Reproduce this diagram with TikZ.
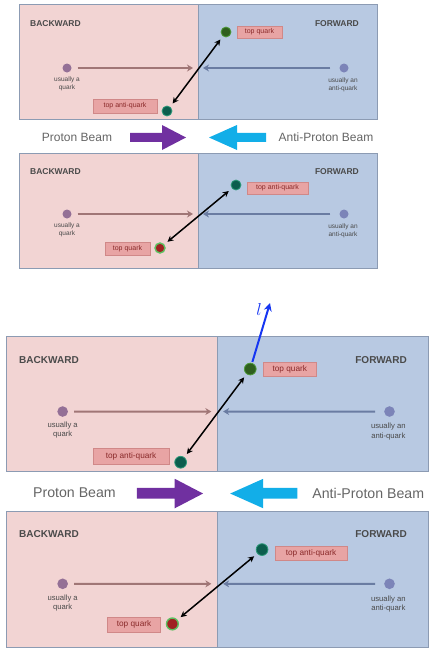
\documentclass[tikz,border=0pt]{standalone}
\usepackage{fontspec}
\setmainfont{Liberation Sans}
\usetikzlibrary{arrows.meta}
\definecolor{pinkbg}{HTML}{F2D4D3}
\definecolor{bluebg}{HTML}{B8C9E2}
\definecolor{framec}{HTML}{8C9BB3}
\definecolor{lblfill}{HTML}{E8A4A4}
\definecolor{lbldraw}{HTML}{D08888}
\definecolor{lbltext}{HTML}{8A2A2A}
\definecolor{parr}{HTML}{A07676}
\definecolor{aparr}{HTML}{6A7CA2}
\definecolor{pdot}{HTML}{947096}
\definecolor{apdot}{HTML}{7C84B8}
\definecolor{beampurple}{HTML}{7030A0}
\definecolor{beamcyan}{HTML}{12AEE8}
\definecolor{txtgray}{HTML}{4A4A4A}
\definecolor{tqgreen}{HTML}{2F5F1E}
\definecolor{tqring}{HTML}{4E9A3A}
\definecolor{aqteal}{HTML}{0C5E4E}
\definecolor{aqring}{HTML}{2E9A7A}
\definecolor{tqred}{HTML}{A02222}
\definecolor{ringgreen}{HTML}{5CC060}
\definecolor{leptonblue}{HTML}{1636F2}
\tikzset{
  panelL/.style={fill=pinkbg, draw=framec, line width=0.8pt},
  panelR/.style={fill=bluebg, draw=framec, line width=0.8pt},
  hdr/.style={font=\fontsize{8.5}{10}\selectfont\bfseries, text=txtgray, inner sep=0pt},
  smalltxt/.style={font=\fontsize{6.5}{7.8}\selectfont, text=txtgray, align=center, inner sep=0pt},
  lbl/.style={rectangle, fill=lblfill, draw=lbldraw, line width=0.5pt,
     font=\fontsize{7}{8}\selectfont, text=lbltext, inner sep=0pt, minimum height=12pt},
  qdot/.style={circle, inner sep=0pt, minimum size=9pt},
  tdot/.style={circle, inner sep=0pt, minimum size=10pt},
  parrow/.style={draw=parr, line width=2pt, -{Stealth[length=6pt,width=7pt]}},
  aparrow/.style={draw=aparr, line width=2pt, -{Stealth[length=6pt,width=7pt]}},
  pairarrow/.style={draw=black, line width=1.5pt, {Stealth[length=6pt,width=6pt]}-{Stealth[length=6pt,width=6pt]}, shorten <=4pt, shorten >=4pt},
  beamtxt/.style={font=\fontsize{12}{14}\selectfont, text=txtgray!85, inner sep=0pt},
  leparrow/.style={draw=leptonblue, line width=2pt, -{Stealth[length=8pt,width=8pt]}, shorten <=1pt},
}
\newcommand\fbdiagram[1]{%
  % ---------- upper panel ----------
  \path[panelL] (0,0) rectangle (179,115);
  \path[panelR] (179,0) rectangle (358,115);
  \node[hdr, anchor=west] (#1bka) at (11,20) {BACKWARD};
  \node[hdr, anchor=east] (#1fwa) at (340,20) {FORWARD};
  \node[qdot, fill=pdot] (#1pqa) at (48,64) {};
  \node[smalltxt] (#1pta) at (48,80) {usually a\\quark};
  \coordinate (#1pea) at (174,64);
  \draw[parrow, shorten <=6pt] (#1pqa) -- (#1pea);
  \node[qdot, fill=apdot] (#1aqa) at (325,64) {};
  \node[smalltxt] (#1ata) at (324,81) {usually an\\anti-quark};
  \coordinate (#1aea) at (184,64);
  \draw[aparrow, shorten <=9pt] (#1aqa) -- (#1aea);
  \node[tdot, fill=tqgreen, draw=tqring, line width=0.8pt] (#1tqa) at (207,28) {};
  \node[lbl, minimum width=45pt] (#1tla) at (240.5,28) {top quark};
  \node[tdot, fill=aqteal, draw=aqring, line width=0.8pt] (#1taa) at (148,107) {};
  \node[lbl, minimum width=64pt, minimum height=14pt] (#1tlb) at (106,102) {top anti-quark};
  \draw[pairarrow] (#1taa) -- (#1tqa);
  % ---------- beam row ----------
  \node[beamtxt] (#1pbm) at (58,133) {Proton Beam};
  \node[beamtxt] (#1abm) at (307,133) {Anti-Proton Beam};
  \fill[beampurple] (111,128.8) -- (143,128.8) -- (143,121) -- (167,133.5) -- (143,146) -- (143,137.8) -- (111,137.8) -- cycle;
  \fill[beamcyan] (247,128.8) -- (218,128.8) -- (218,121) -- (190,133.5) -- (218,146) -- (218,137.8) -- (247,137.8) -- cycle;
  % ---------- lower panel ----------
  \path[panelL] (0,149) rectangle (179,264);
  \path[panelR] (179,149) rectangle (358,264);
  \node[hdr, anchor=west] (#1bkb) at (11,168) {BACKWARD};
  \node[hdr, anchor=east] (#1fwb) at (340,168) {FORWARD};
  \node[qdot, fill=pdot] (#1pqb) at (48,210) {};
  \node[smalltxt] (#1ptb) at (48,226) {usually a\\quark};
  \coordinate (#1peb) at (174,210);
  \draw[parrow, shorten <=6pt] (#1pqb) -- (#1peb);
  \node[qdot, fill=apdot] (#1aqb) at (325,210) {};
  \node[smalltxt] (#1atb) at (324,227) {usually an\\anti-quark};
  \coordinate (#1aeb) at (184,210);
  \draw[aparrow, shorten <=9pt] (#1aqb) -- (#1aeb);
  \node[tdot, fill=aqteal, draw=aqring, line width=0.8pt] (#1tqb) at (217,181) {};
  \node[lbl, minimum width=61pt] (#1tlc) at (258.5,184) {top anti-quark};
  \node[tdot, fill=tqred, draw=ringgreen, line width=1.4pt] (#1tab) at (141,244) {};
  \node[lbl, minimum width=45pt, minimum height=13pt] (#1tld) at (108.5,244.5) {top quark};
  \draw[pairarrow] (#1tab) -- (#1tqb);
}
\begin{document}
\begin{tikzpicture}[x=1pt,y=-1pt]
  \useasboundingbox (0,0) rectangle (430,648);
  \begin{scope}[shift={(19,4)}]
    \fbdiagram{u}
  \end{scope}
  \begin{scope}[shift={(6,336)}, scale=1.18, transform shape]
    \fbdiagram{d}
  \end{scope}
  \coordinate (ltip) at (270,303);
  \draw[leparrow] (dtqa) -- (ltip);
  \node[text=leptonblue, font=\fontsize{17}{19}\selectfont, inner sep=0pt] (lsym) at (259,309) {$l$};
\end{tikzpicture}
\end{document}
